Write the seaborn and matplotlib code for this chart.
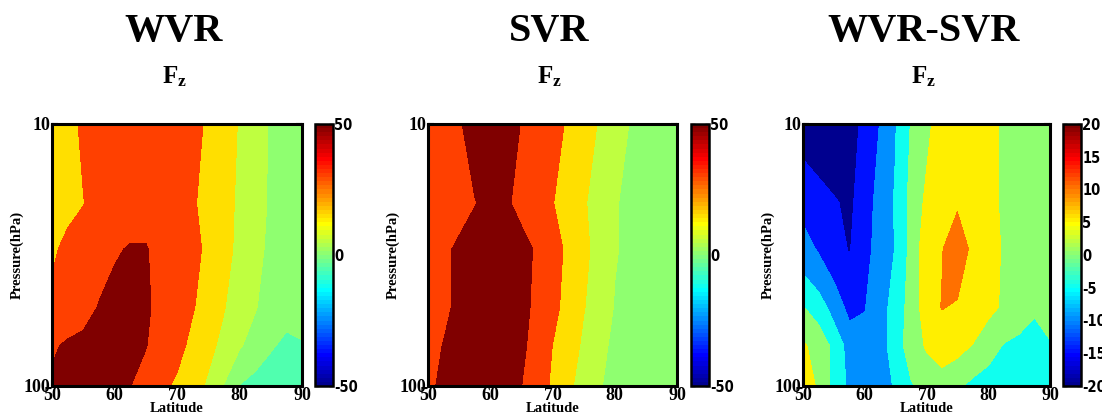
import numpy as np
import matplotlib
matplotlib.use("Agg")
import matplotlib.pyplot as plt
import seaborn as sns
from matplotlib.colors import Normalize, ListedColormap
from matplotlib.cm import ScalarMappable
from matplotlib import font_manager
import matplotlib.ticker as mticker

# ---------------- data ----------------
latitudes = [50, 52.5, 55, 57.5, 60, 62.5, 65, 67.5, 70, 72.5, 75, 77.5, 80, 82.5, 85, 87.5, 90]
pressure_levels = [10, 20, 30, 50, 70, 100]

wvr_fz = [
    [22, 26, 32, 38, 42, 44, 44, 42, 40, 36, 27, 21, 14, 8.5, 4, 2.5, 2],
    [24, 27, 29.5, 36, 42, 44, 44, 43, 40, 32, 24, 19, 13, 8, 4, 2.5, 2],
    [28, 33, 38, 43, 48.5, 51, 51, 45, 40, 34, 27, 19, 12, 7, 3.5, 2.5, 2],
    [33, 37, 42, 51, 55, 57, 54, 42, 38, 31, 24, 15.5, 10, 5.3, 3, 1.5, 1],
    [47, 53, 56, 58, 59, 58, 51, 40, 35, 26, 18, 12, 5.5, 3, 0.5, -1, -0.2],
    [54, 56, 57, 57, 55, 50.5, 40, 34, 27, 20, 13, 4.5, -0.2, -2, -3, -3, -3],
]
svr_fz = [
    [38, 42, 49, 54, 58, 56, 49.5, 42, 36, 28, 21, 14, 10, 4.5, 3, 2.5, 2],
    [36, 40, 44, 49.5, 53, 52, 46, 38, 30.5, 24, 16, 11, 5.5, 3.5, 2.5, 2, 2],
    [42, 46.5, 53, 56, 58, 58, 55, 48, 38, 26, 17, 12, 5.5, 3.5, 2.5, 2, 2],
    [42, 47, 53, 56, 58, 58, 55, 46, 35, 24, 15.5, 10, 4.5, 3, 2.5, 2, 2],
    [45, 50.5, 55, 57, 58, 57, 53, 44, 29.8, 21, 13, 7, 3.5, 2.5, 2, 2, 1.5],
    [47, 53, 56, 57, 58, 56, 50.2, 40, 27, 17, 11, 5.5, 3, 2, 2, 1.5, 1.5],
]
diff_fz = [
    [-17, -18, -18.5, -17.5, -13.5, -9.8, -5.2, 0.3, 4, 7, 8.5, 8.5, 7, 4, 3, 2.5, 2.5],
    [-11.5, -13, -14.5, -16, -12.5, -8, -4.5, 1.5, 6, 8, 9.5, 9, 7, 4, 3, 2.5, 2],
    [-8, -10.5, -13, -15.3, -12, -7.5, -4.8, 1.5, 8, 9.8, 12.5, 9, 7, 4.5, 3, 2.5, 2],
    [0.2, -2.5, -7, -11.5, -10.2, -7, -3, 2, 7.5, 10.2, 9.5, 8, 6, 4.5, 3, 0.8, 1.5],
    [5.5, 3.5, -1.5, -7, -8.5, -7, -2.5, 2.5, 5.5, 7, 6.5, 4.8, 2.5, -0.3, -1.5, -2.5, -0.3],
    [7, 4.5, -1.5, -6, -7, -7, -4.5, -0.5, 2, 3, 1, -1.5, -3, -3.5, -4, -4, -3.5],
]

panel_titles = ["WVR", "SVR", "WVR-SVR"]
levels_main = [-50, -30, -15, -5, 0, 5, 15, 30, 50, 80]
levels_diff = [-20, -15, -10, -5, 0, 5, 10, 15, 20]
cbar_ticks_main = [-50, 0, 50]
cbar_ticks_diff = [-20, -15, -10, -5, 0, 5, 10, 15, 20]
x_ticks = [50, 60, 70, 80, 90]
y_ticks = [10, 100]
y_ticklabels = ["10", "100"]

# ---------------- style ----------------
sns.set_theme(style="ticks")
plt.rcParams["font.family"] = ["Liberation Serif", "DejaVu Serif"]
plt.rcParams["font.weight"] = "bold"
for k in ["text.color", "axes.labelcolor", "xtick.color", "ytick.color",
          "axes.edgecolor", "xtick.labelcolor", "ytick.labelcolor"]:
    plt.rcParams[k] = "black"
plt.rcParams["mathtext.fontset"] = "custom"
plt.rcParams["mathtext.bf"] = "Liberation Serif:bold"
plt.rcParams["mathtext.rm"] = "Liberation Serif"

# narrow sans font for colorbar labels, if one is installed
_fonts = font_manager.fontManager.ttflist
if any(f.name == "Liberation Sans Narrow" for f in _fonts):
    cb_font, cb_stretch, cb_size = ["Liberation Sans Narrow"], "normal", 11.5
elif any(f.name == "DejaVu Sans" and str(f.stretch) == "condensed" for f in _fonts):
    cb_font, cb_stretch, cb_size = ["DejaVu Sans"], "condensed", 10.5
else:
    cb_font, cb_stretch, cb_size = ["Liberation Sans", "DejaVu Sans"], "normal", 10.5


def matlab_jet(m=64):
    n = int(np.ceil(m / 4))
    u = np.concatenate([np.arange(1, n + 1) / n, np.ones(n - 1), np.arange(n, 0, -1) / n])
    g = int(np.ceil(n / 2)) - (1 if m % 4 == 1 else 0) + np.arange(1, len(u) + 1)
    r = g + n
    b = g - n
    J = np.zeros((m, 3))
    for idx, ch in ((r, 0), (g, 1), (b, 2)):
        ok = (idx >= 1) & (idx <= m)
        J[idx[ok] - 1, ch] = u[ok]
    return ListedColormap(J)


jet = matlab_jet(64)

W, H = 1102, 420
fig = plt.figure(figsize=(W / 100, H / 100), dpi=100)


def fr(x0, x1, y0, y1):
    return [x0 / W, 1 - y1 / H, (x1 - x0) / W, (y1 - y0) / H]


axes_px = [(52, 302), (428, 677), (803, 1050)]
cbar_px = [(315, 333), (691, 709), (1063, 1081)]
top, bot = 124, 386

datasets = [wvr_fz, svr_fz, diff_fz]
ranges = [(-50, 50), (-50, 50), (-20, 20)]
levels_all = [levels_main, levels_main, levels_diff]
cticks_all = [cbar_ticks_main, cbar_ticks_main, cbar_ticks_diff]

for i in range(3):
    ax = fig.add_axes(fr(axes_px[i][0], axes_px[i][1], top, bot))
    norm = Normalize(*ranges[i])
    lv = levels_all[i]
    cols = [jet(norm(v)) for v in lv[:-1]]
    Z = np.array(datasets[i], dtype=float)
    ax.contourf(latitudes, pressure_levels, Z, levels=lv, colors=cols, antialiased=False)
    ax.set_yscale("log")
    ax.set_ylim(100, 10)
    ax.set_xlim(50, 90)
    ax.set_xticks(x_ticks)
    ax.set_xticklabels([str(t) for t in x_ticks])
    ax.set_yticks(y_ticks)
    ax.set_yticklabels(y_ticklabels)
    ax.yaxis.set_minor_locator(mticker.LogLocator(base=10, subs=range(2, 10)))
    ax.yaxis.set_minor_formatter(mticker.NullFormatter())
    ax.tick_params(which="both", direction="in", top=True, right=True,
                   width=1.5, color="black")
    ax.tick_params(which="major", length=4, labelsize=13, pad=1, labelcolor="black")
    ax.tick_params(which="minor", length=2.5)
    for lab in ax.get_xticklabels() + ax.get_yticklabels():
        lab.set_fontweight("bold")
    for s in ax.spines.values():
        s.set_linewidth(2.2)
        s.set_color("black")
    ax.set_xlabel("Latitude", fontsize=10.5, fontweight="bold", labelpad=-2, color="black")
    ax.set_ylabel("Pressure(hPa)", fontsize=10.5, fontweight="bold", labelpad=0, color="black")

    cx = (axes_px[i][0] + axes_px[i][1]) / 2 - 3
    fig.text(cx / W, 1 - 41.5 / H, panel_titles[i], ha="center", va="baseline",
             fontsize=29, fontweight="bold", color="black")
    fig.text(cx / W, 1 - 83 / H, r"$\mathbf{F_z}$", ha="center", va="baseline",
             fontsize=18, color="black")

    cax = fig.add_axes(fr(cbar_px[i][0], cbar_px[i][1], top, bot))
    cb = fig.colorbar(ScalarMappable(norm=norm, cmap=jet), cax=cax, ticks=cticks_all[i])
    cb.outline.set_linewidth(1.8)
    cb.outline.set_edgecolor("black")
    cax.set_yticklabels([str(t) for t in cticks_all[i]])
    cax.tick_params(direction="in", left=True, right=True, length=3, width=1,
                    pad=1, labelsize=cb_size, color="black", labelcolor="black")
    for lab in cax.get_yticklabels():
        lab.set_family(cb_font)
        lab.set_fontstretch(cb_stretch)
        lab.set_fontweight("bold")

fig.savefig("out.png", dpi=100)
